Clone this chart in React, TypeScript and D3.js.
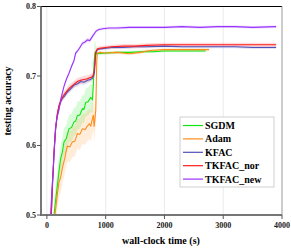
import React from 'react';
import * as d3 from 'd3';

// values
const sgdmT = [120, 150, 177, 205, 234, 262, 291, 330, 376, 420, 462, 490, 519, 560, 604, 630, 661, 700, 746, 775, 792, 803, 815, 860, 1000, 1200, 1400, 1600, 1800, 2000, 2200, 2400, 2700];
const sgdmAcc = [0.5, 0.522, 0.541, 0.562, 0.581, 0.59, 0.605, 0.61, 0.624, 0.626, 0.634, 0.635, 0.643, 0.644, 0.653, 0.652, 0.662, 0.663, 0.669, 0.666, 0.689, 0.718, 0.733, 0.732, 0.733, 0.734, 0.734, 0.735, 0.735, 0.736, 0.736, 0.736, 0.736];

const adamT = [137, 160, 177, 205, 234, 262, 300, 347, 390, 433, 475, 519, 560, 604, 650, 690, 720, 746, 770, 792, 803, 820, 832, 849, 860, 900, 1000, 1200, 1400, 1600, 1700, 1800, 2000, 2200, 2500, 2760];
const adamAcc = [0.5, 0.517, 0.529, 0.547, 0.554, 0.567, 0.58, 0.599, 0.598, 0.605, 0.606, 0.617, 0.616, 0.624, 0.623, 0.628, 0.631, 0.628, 0.637, 0.644, 0.627, 0.64, 0.651, 0.723, 0.733, 0.734, 0.733, 0.734, 0.732, 0.734, 0.736, 0.737, 0.738, 0.738, 0.738, 0.738];

const kfacT = [75, 95, 120, 148, 175, 205, 235, 262, 300, 347, 400, 462, 520, 576, 630, 690, 740, 775, 795, 810, 832, 860, 900, 1000, 1100, 1300, 1500, 1700, 2000, 2300, 2600, 2900, 3200, 3500, 3900];
const kfacAcc = [0.5, 0.54, 0.585, 0.622, 0.642, 0.656, 0.663, 0.668, 0.671, 0.677, 0.681, 0.687, 0.689, 0.692, 0.691, 0.694, 0.695, 0.697, 0.7, 0.706, 0.733, 0.738, 0.739, 0.74, 0.741, 0.741, 0.742, 0.742, 0.743, 0.742, 0.742, 0.742, 0.742, 0.741, 0.741];
const norAcc = [0.5, 0.545, 0.59, 0.624, 0.645, 0.657, 0.664, 0.669, 0.674, 0.679, 0.684, 0.688, 0.692, 0.694, 0.695, 0.696, 0.698, 0.699, 0.703, 0.712, 0.735, 0.739, 0.74, 0.741, 0.742, 0.743, 0.743, 0.744, 0.745, 0.745, 0.745, 0.745, 0.745, 0.745, 0.745];

const newT = [63, 85, 108, 128, 148, 175, 205, 240, 291, 330, 376, 420, 460, 490, 530, 570, 604, 650, 690, 730, 775, 800, 832, 860, 889, 950, 1060, 1200, 1400, 1600, 1800, 2000, 2300, 2600, 2900, 3200, 3500, 3900];
const newAcc = [0.5, 0.535, 0.565, 0.598, 0.627, 0.641, 0.651, 0.668, 0.685, 0.695, 0.704, 0.714, 0.722, 0.733, 0.737, 0.742, 0.747, 0.749, 0.752, 0.751, 0.757, 0.76, 0.764, 0.766, 0.767, 0.768, 0.769, 0.769, 0.77, 0.77, 0.77, 0.77, 0.771, 0.77, 0.771, 0.771, 0.77, 0.771];

// shaded spread: [before jump, after jump]
const sgdmSpread = [0.02, 0.002];
const adamSpread = [0.022, 0.002];
const kfacSpread = [0.004, 0.002];
const norSpread = [0.005, 0.003];
const newSpread = [0.003, 0.002];

const xTicks = [0, 1000, 2000, 3000, 4000];
const yTicks = [0.5, 0.6, 0.7, 0.8];

const series = [
  { name: 'SGDM', t: sgdmT, acc: sgdmAcc, spread: sgdmSpread, color: '#11e611' },
  { name: 'Adam', t: adamT, acc: adamAcc, spread: adamSpread, color: '#ff8c1a' },
  { name: 'KFAC', t: kfacT, acc: kfacAcc, spread: kfacSpread, color: '#5050b8' },
  { name: 'TKFAC_nor', t: kfacT, acc: norAcc, spread: norSpread, color: '#ff1a1a' },
  { name: 'TKFAC_new', t: newT, acc: newAcc, spread: newSpread, color: '#9933ff' },
];

const W = 291;
const H = 249;
const m = { left: 41, right: 282, top: 6.5, bottom: 215 };
const font = '"Liberation Serif", "Times New Roman", serif';

export default function App() {
  const x = d3.scaleLinear().domain([-100, 4000]).range([m.left, m.right]);
  const y = d3.scaleLinear().domain([0.5, 0.8]).range([m.bottom, m.top]);

  const line = d3.line<[number, number]>().x(d => x(d[0])).y(d => y(d[1]));
  const area = d3
    .area<[number, number, number]>()
    .x(d => x(d[0]))
    .y0(d => y(d[1] - d[2]))
    .y1(d => y(d[1] + d[2]));

  return (
    <svg width={W} height={H} style={{ position: 'absolute', left: 0, top: 0 }} fontFamily={font}>
      <defs>
        <clipPath id="plot">
          <rect x={m.left} y={m.top} width={m.right - m.left} height={m.bottom - m.top} />
        </clipPath>
      </defs>
      <rect x={0} y={0} width={W} height={H} fill="#fff" />
      {xTicks.slice(0, 4).map(t => (
        <line key={t} x1={x(t)} x2={x(t)} y1={m.top} y2={m.bottom} stroke="#ebebeb" strokeWidth={1} />
      ))}
      <g clipPath="url(#plot)">
        {series.map(s => {
          const pts = s.t.map((t, i) => [t, s.acc[i], t < 850 ? s.spread[0] : s.spread[1]] as [number, number, number]);
          return <path key={s.name + 'b'} d={area(pts) || ''} fill={s.color} opacity={0.16} />;
        })}
        {series.map(s => (
          <path
            key={s.name}
            d={line(s.t.map((t, i) => [t, s.acc[i]] as [number, number])) || ''}
            fill="none"
            stroke={s.color}
            strokeWidth={1.1}
          />
        ))}
      </g>
      {/* frame */}
      <line x1={m.left} x2={m.right} y1={m.top} y2={m.top} stroke="#000" strokeWidth={1} />
      <line x1={m.right} x2={m.right} y1={m.top} y2={m.bottom} stroke="#999" strokeWidth={1} />
      <line x1={m.left} x2={m.left} y1={m.top} y2={m.bottom + 1} stroke="#777" strokeWidth={2} />
      <line x1={m.left - 1} x2={m.right} y1={m.bottom} y2={m.bottom} stroke="#777" strokeWidth={2} />
      {/* y ticks */}
      {yTicks.map(v => (
        <g key={v}>
          <line x1={m.left - 4} x2={m.left} y1={y(v)} y2={y(v)} stroke="#555" strokeWidth={1} />
          <text x={m.left - 5} y={y(v)} dy="0.33em" textAnchor="end" fontSize={8} fontWeight="bold" fill="#222">
            {v.toFixed(1)}
          </text>
        </g>
      ))}
      {/* x ticks */}
      {xTicks.map(t => (
        <g key={t}>
          <line x1={x(t)} x2={x(t)} y1={m.bottom} y2={m.bottom + 4} stroke="#555" strokeWidth={1} />
          <text x={x(t)} y={m.bottom + 13} textAnchor="middle" fontSize={8} fontWeight="bold" fill="#222">
            {t}
          </text>
        </g>
      ))}
      <text x={161} y={244} textAnchor="middle" fontSize={10} fontWeight="bold">
        wall-clock time (s)
      </text>
      <text transform="translate(11,101) rotate(-90)" textAnchor="middle" fontSize={10} fontWeight="bold">
        testing accuracy
      </text>
      {/* legend */}
      <rect x={180} y={117} width={94} height={70} fill="#fff" stroke="#cfcfcf" strokeWidth={1} />
      {series.map((s, i) => (
        <g key={s.name + 'l'}>
          <line x1={183} x2={203} y1={125.5 + i * 13.4} y2={125.5 + i * 13.4} stroke={s.color} strokeWidth={1.2} />
          <text x={205} y={125.5 + i * 13.4} dy="0.35em" fontSize={10} fontWeight="bold">
            {s.name}
          </text>
        </g>
      ))}
    </svg>
  );
}
